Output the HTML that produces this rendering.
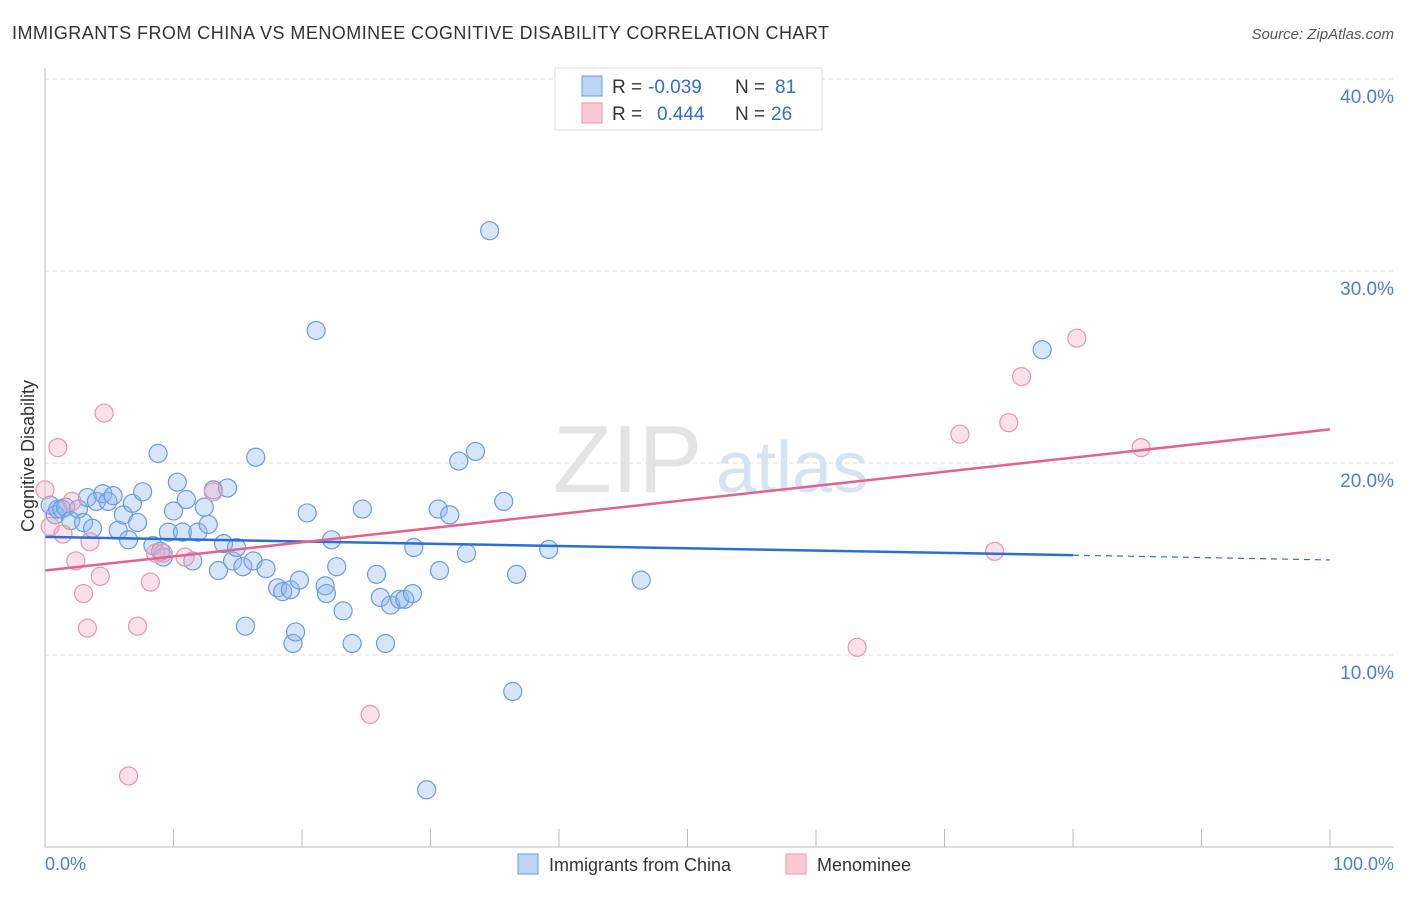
<!DOCTYPE html>
<html><head><meta charset="utf-8"><style>
body{margin:0;background:#fff;font-family:"Liberation Sans",sans-serif}
svg text{font-family:"Liberation Sans",sans-serif}
</style></head><body>
<svg id="c" width="1406" height="892">
<text x="12" y="39" font-size="18" fill="#333" textLength="817">IMMIGRANTS FROM CHINA VS MENOMINEE COGNITIVE DISABILITY CORRELATION CHART</text>
<text x="1394" y="39" font-size="15" fill="#555" font-style="italic" text-anchor="end">Source: ZipAtlas.com</text>
<text x="553" y="492" font-size="96" fill="#e4e4e4" font-family="Liberation Serif">ZIP</text>
<text x="716" y="492" font-size="72" fill="#d6e3f3">atlas</text>
<g id="grid"></g><g id="pts"></g><g id="lines"></g>
<line x1="45" y1="68" x2="45" y2="847" stroke="#bbb"/>
<line x1="45" y1="847" x2="1394" y2="847" stroke="#bbb"/>
<text x="34" y="456" font-size="18" fill="#333" transform="rotate(-90 34 456)" text-anchor="middle">Cognitive Disability</text>
<text x="45" y="870" font-size="18" fill="#4a7fd4">0.0%</text>
<text x="1394" y="870" font-size="18" fill="#4a7fd4" text-anchor="end">100.0%</text>
<g>
<rect x="555" y="68" width="267" height="62" fill="#fff" stroke="#ddd"/>
<rect x="582" y="76" width="20" height="20" fill="#bcd5f5" stroke="#6a9be0"/>
<rect x="582" y="103" width="20" height="20" fill="#f9c9d6" stroke="#e895ad"/>
<text x="612" y="93" font-size="19" fill="#333">R =</text>
<text x="648" y="93" font-size="19" fill="#2f6fd0">-0.039</text>
<text x="735" y="93" font-size="19" fill="#333">N =</text>
<text x="775" y="93" font-size="19" fill="#2f6fd0">81</text>
<text x="612" y="120" font-size="19" fill="#333">R =</text>
<text x="657" y="120" font-size="19" fill="#2f6fd0">0.444</text>
<text x="735" y="120" font-size="19" fill="#333">N =</text>
<text x="771" y="120" font-size="19" fill="#2f6fd0">26</text>
</g>
<g>
<rect x="518" y="854" width="20" height="20" fill="#bcd5f5" stroke="#6a9be0"/>
<text x="549" y="871" font-size="18" fill="#333">Immigrants from China</text>
<rect x="786" y="854" width="20" height="20" fill="#f9c9d6" stroke="#e895ad"/>
<text x="817" y="871" font-size="18" fill="#333">Menominee</text>
</g>
</svg>
<script>
const yTicks=[10,20,30,40];
const yTickLabels=["10.0%","20.0%","30.0%","40.0%"];
const xTicks=[0,10,20,30,40,50,60,70,80,90,100];
const chinaX=[0.4,0.8,1,1.3,1.6,2,2.6,3,3.3,3.7,4,4.5,4.9,5.3,5.7,6.1,6.5,6.8,7.2,7.6,8.4,8.8,9,9.2,9.6,10,10.3,10.7,11,11.5,11.9,12.4,12.7,13.1,13.5,13.9,14.2,14.6,14.9,15.4,15.6,16.2,16.4,17.2,18.1,18.5,19.1,19.3,19.5,19.8,20.4,21.1,21.8,21.9,22.3,22.7,23.2,23.9,24.7,25.8,26.1,26.5,26.9,27.6,28,28.6,28.7,29.7,30.6,30.7,31.5,32.2,32.8,33.5,34.6,35.7,36.4,36.7,39.2,46.4,77.6];
const chinaY=[17.8,17.3,17.6,17.6,17.7,17,17.6,16.9,18.2,16.6,18,18.4,18,18.3,16.5,17.3,16,17.9,16.9,18.5,15.7,20.5,15.4,15.1,16.4,17.5,19,16.4,18.1,14.9,16.4,17.7,16.8,18.6,14.4,15.8,18.7,14.9,15.6,14.6,11.5,14.9,20.3,14.5,13.5,13.3,13.4,10.6,11.2,13.9,17.4,26.9,13.6,13.2,16,14.6,12.3,10.6,17.6,14.2,13,10.6,12.6,12.9,12.9,13.2,15.6,2.98,17.6,14.4,17.3,20.1,15.3,20.6,32.1,18.0,8.1,14.2,15.5,13.9,25.9];
const menX=[0,0.4,1,1.4,2.1,2.4,3,3.3,3.5,4.3,4.6,6.5,7.2,8.2,8.6,9.2,10.9,13.1,25.3,63.2,71.2,73.9,75,76,80.3,85.3];
const menY=[18.6,16.7,20.8,16.3,18,14.9,13.2,11.4,15.9,14.1,22.6,3.7,11.5,13.8,15.3,15.3,15.1,18.5,6.9,10.4,21.5,15.4,22.1,24.5,26.5,20.8];
const chinaTrend=[16.15,15.2,14.95];
const menTrend=[14.4,21.75];
const X=v=>45+v*12.85, Y=v=>847-v*19.2;
const NS="http://www.w3.org/2000/svg";
function mk(t,a,p){const e=document.createElementNS(NS,t);for(const k in a)e.setAttribute(k,a[k]);p.appendChild(e);return e;}
const g=document.getElementById('grid');
yTicks.forEach((t,i)=>{
 const l=mk('line',{x1:45,x2:1394,y1:Y(t),y2:Y(t),stroke:'#ddd','stroke-dasharray':'4,4'},g);
 
 
 const tx=mk('text',{x:1394,y:Y(t)+24,'font-size':19,fill:'#4a7fd4','text-anchor':'end'},g);
 tx.textContent=yTickLabels[i];
 
 
});
xTicks.forEach(t=>{
 const l=mk('line',{x1:X(t),x2:X(t),y1:829,y2:847,stroke:'#bbb'},g);
 
 
});
const p=document.getElementById('pts');
chinaX.forEach((v,i)=>{
 const c=mk('circle',{cx:X(v),cy:Y(chinaY[i]),r:9,fill:'rgba(140,180,235,0.35)',stroke:'#6a9be0','stroke-width':1.2},p);
 
 
});
menX.forEach((v,i)=>{
 const c=mk('circle',{cx:X(v),cy:Y(menY[i]),r:9,fill:'rgba(245,170,195,0.35)',stroke:'#e895ad','stroke-width':1.2},p);
 
 
});
const L=document.getElementById('lines');
let a=mk('line',{x1:X(0),y1:Y(chinaTrend[0]),x2:X(80),y2:Y(chinaTrend[1]),stroke:'#2a6fd6','stroke-width':2.5},L);


a=mk('line',{x1:X(80),y1:Y(chinaTrend[1]),x2:X(100),y2:Y(chinaTrend[2]),stroke:'#2a6fd6','stroke-width':1.2,'stroke-dasharray':'6,5'},L);


a=mk('line',{x1:X(0),y1:Y(menTrend[0]),x2:X(100),y2:Y(menTrend[1]),stroke:'#e4638c','stroke-width':2.5},L);


</script>
</body></html>
